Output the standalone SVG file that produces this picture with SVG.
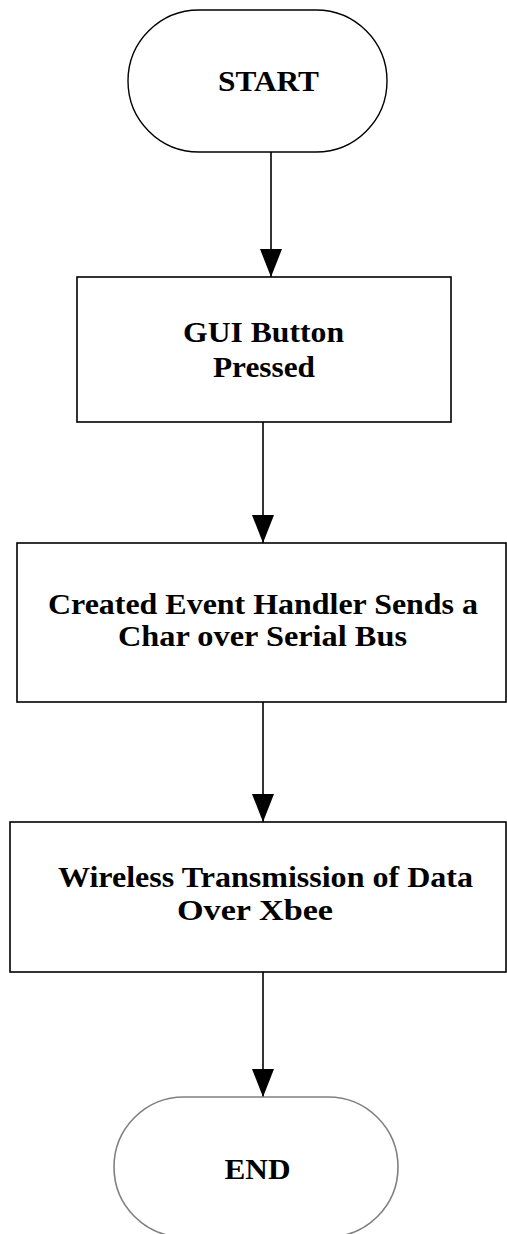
<svg xmlns="http://www.w3.org/2000/svg" width="507" height="1234" viewBox="0 0 507 1234">
  <style>
    .box { fill: #ffffff; stroke: #000000; stroke-width: 1.6; }
    .term { fill: #ffffff; stroke: #000000; stroke-width: 1.4; }
    .term-end { fill: #ffffff; stroke: #808080; stroke-width: 1.6; }
    .lbl { font-family: "Liberation Serif", "Times New Roman", serif; font-weight: bold; font-size: 30px; fill: #000000; text-anchor: middle; }
    .lbl2 { font-size: 29px; }
    .edge { stroke: #000000; stroke-width: 1.6; fill: none; marker-end: url(#arrow); }
  </style>
  <defs>
    <!-- arrowhead drawn along +x so orient="auto" turns it with the line -->
    <marker id="arrow" markerUnits="userSpaceOnUse" markerWidth="28" markerHeight="22" viewBox="0 0 28 22" refX="28" refY="11" orient="auto">
      <path d="M0,0 L28,11 L0,22 Z" fill="#000000"/>
    </marker>
  </defs>
  <rect width="507" height="1234" fill="#ffffff"/>

  <g id="connectors">
    <line class="edge" x1="271" y1="152" x2="271" y2="277"/>
    <line class="edge" x1="263" y1="422" x2="263" y2="543"/>
    <line class="edge" x1="263" y1="702" x2="263" y2="822"/>
    <line class="edge" x1="263" y1="972" x2="263" y2="1097"/>
  </g>

  <g id="start">
    <rect class="term" x="128" y="10" width="259" height="142" rx="71" ry="71"/>
    <text class="lbl" x="268.5" y="91" textLength="101" lengthAdjust="spacingAndGlyphs">START</text>
  </g>

  <g id="gui-button">
    <rect class="box" x="77" y="277" width="374" height="145"/>
    <text class="lbl" x="263.5" y="342" textLength="161" lengthAdjust="spacingAndGlyphs">GUI Button</text>
    <text class="lbl" x="264" y="377" textLength="102" lengthAdjust="spacingAndGlyphs">Pressed</text>
  </g>

  <g id="event-handler">
    <rect class="box" x="17" y="543" width="489" height="159"/>
    <text class="lbl lbl2" x="263" y="614" textLength="430" lengthAdjust="spacingAndGlyphs">Created Event Handler Sends a</text>
    <text class="lbl lbl2" x="262.5" y="646" textLength="289" lengthAdjust="spacingAndGlyphs">Char over Serial Bus</text>
  </g>

  <g id="wireless">
    <rect class="box" x="10" y="822" width="496" height="150"/>
    <text class="lbl lbl2" x="265.5" y="887" textLength="415" lengthAdjust="spacingAndGlyphs">Wireless Transmission of Data</text>
    <text class="lbl lbl2" x="255" y="920" textLength="156" lengthAdjust="spacingAndGlyphs">Over Xbee</text>
  </g>

  <g id="end">
    <rect class="term-end" x="114" y="1097" width="284" height="140" rx="70" ry="70"/>
    <text class="lbl" x="257.5" y="1179" textLength="66" lengthAdjust="spacingAndGlyphs">END</text>
  </g>
</svg>
